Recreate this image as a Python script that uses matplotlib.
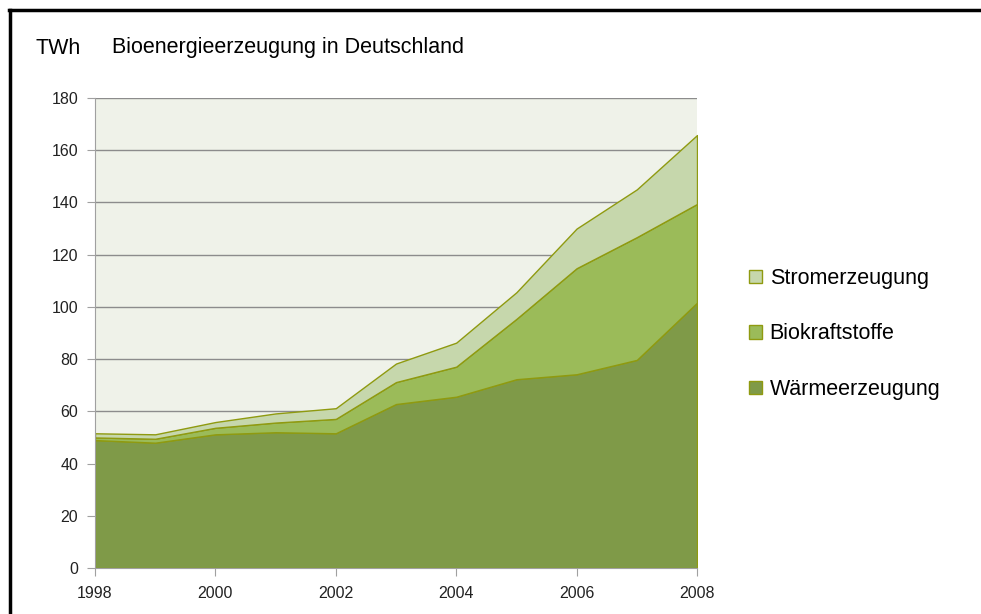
import matplotlib as mpl
mpl.use('Agg')
import matplotlib.pyplot as plt
import numpy as np

plt.rcParams['font.family'] = ['Liberation Sans', 'DejaVu Sans']

jahre = [1998, 1999, 2000, 2001, 2002, 2003, 2004, 2005, 2006, 2007, 2008]
# kumulierte Oberkanten
waerme = [49.0, 48.0, 51.2, 52.0, 51.6, 62.8, 65.6, 72.3, 74.2, 79.7, 101.6]
bio_top = [50.0, 49.5, 53.7, 55.7, 57.1, 71.2, 77.1, 95.4, 114.8, 126.7, 139.4]
strom_top = [51.6, 51.2, 55.9, 59.2, 61.2, 78.3, 86.3, 105.6, 130.0, 145.0, 165.8]

biokraft = [b - w for b, w in zip(bio_top, waerme)]
strom = [s - b for s, b in zip(strom_top, bio_top)]

labels = ['Wärmeerzeugung', 'Biokraftstoffe', 'Stromerzeugung']
farben = ['#7f9a48', '#9bbb59', '#c6d7ac']
kante = '#8f9a10'

fig = plt.figure(figsize=(9.81, 6.14), dpi=100)
ax = fig.add_axes([0.0968, 0.0749, 0.6137, 0.7655])
ax.set_facecolor('#eff2e9')

polys = ax.stackplot(jahre, waerme, biokraft, strom, colors=farben,
                     edgecolor=kante, linewidth=1.0, labels=labels, zorder=3)

ax.set_xlim(1998, 2008)
ax.set_ylim(0, 180)
ax.set_yticks(np.arange(0, 181, 20))
ax.set_xticks([1998, 2000, 2002, 2004, 2006, 2008])
ax.grid(axis='y', color='#8c8c8c', linewidth=1.0, zorder=1)
ax.set_axisbelow(True)
for s in ['top', 'right']:
    ax.spines[s].set_visible(False)
for s in ['left', 'bottom']:
    ax.spines[s].set_color('#a0a0a0')
    ax.spines[s].set_zorder(4)
ax.tick_params(colors='#a0a0a0', labelcolor='#222222', length=6, labelsize=11.5)
ax.tick_params(axis='y', pad=6)
ax.tick_params(axis='x', pad=7)

# Legende
handles, lbls = ax.get_legend_handles_labels()
leg = fig.legend(handles[::-1], lbls[::-1], loc='upper left',
                 bbox_to_anchor=(0.744, 0.595), frameon=False, fontsize=15.5,
                 handlelength=0.6, handleheight=0.6, handletextpad=0.35,
                 labelspacing=1.6)

fig.text(36 / 981, 1 - 48 / 614, 'TWh', fontsize=15.5, va='center', ha='left')
fig.text(112 / 981, 1 - 48 / 614, 'Bioenergieerzeugung in Deutschland',
         fontsize=15.5, va='center', ha='left')

# schwarzer Rahmen links und oben
fig.add_artist(plt.Line2D([10 / 981, 10 / 981], [0, 1 - 10 / 614],
                          color='black', linewidth=2.5, transform=fig.transFigure))
fig.add_artist(plt.Line2D([9 / 981, 1], [1 - 10 / 614, 1 - 10 / 614],
                          color='black', linewidth=2.5, transform=fig.transFigure))

fig.savefig('out.png', dpi=100)
